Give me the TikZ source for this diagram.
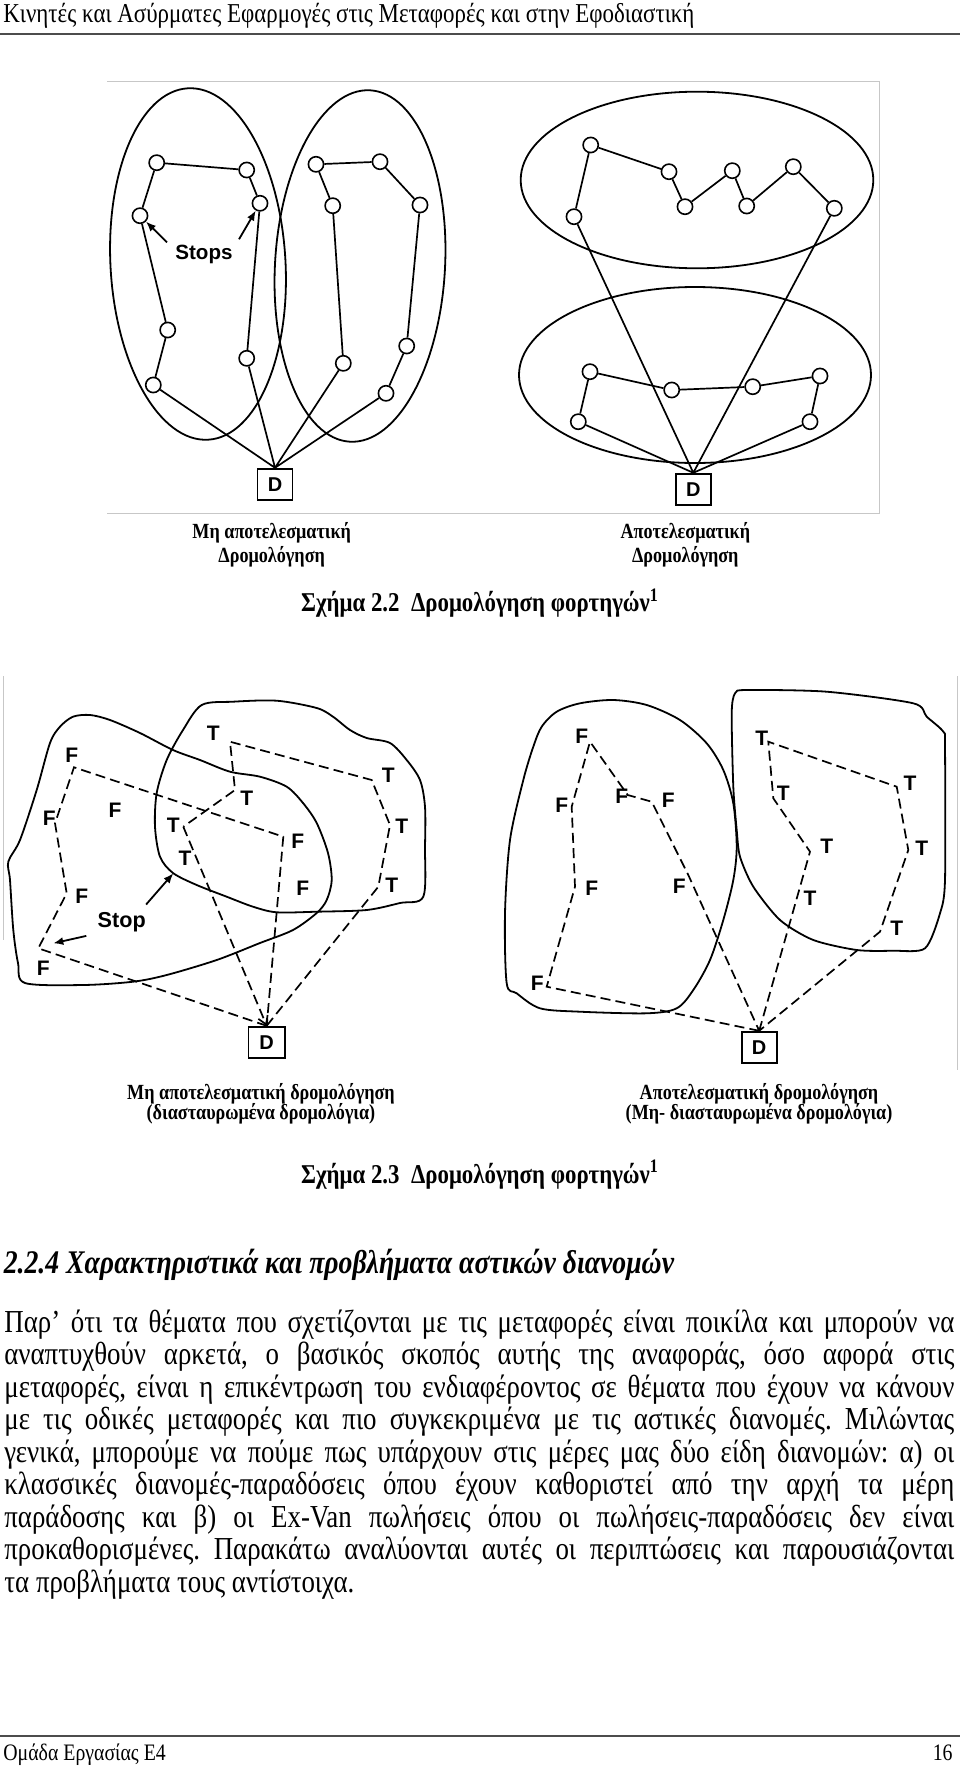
\documentclass[tikz,border=0pt]{standalone}
\usepackage{fontspec}
\setmainfont{Liberation Serif}[FakeStretch=0.84]
\newfontfamily\labelfont{Liberation Sans}
\usetikzlibrary{arrows.meta}
\frenchspacing

\tikzset{
  zone/.style={line width=0.9pt, line join=round},
  stopdot/.style={circle, draw, fill=white, line width=0.8pt, minimum size=7.6pt, inner sep=0pt},
  depot/.style={draw, line width=0.9pt, inner sep=0pt, minimum width=17.5pt, minimum height=15.8pt,
    font=\labelfont\bfseries\fontsize{10}{10}\selectfont},
  leg/.style={line width=0.85pt},
  dashleg/.style={line width=0.85pt, dash pattern=on 5pt off 2.6pt},
  pointer/.style={line width=0.9pt, -{Latex[length=5pt,width=4pt]}},
  stopletter/.style={inner sep=0pt, font=\labelfont\bfseries\fontsize{10.5}{10.5}\selectfont},
  sublabel/.style={anchor=base, font=\bfseries\fontsize{10.8}{12}\selectfont},
  figcaption/.style={anchor=base, font=\bfseries\fontsize{13.6}{15}\selectfont},
  bodyline/.style={anchor=base west, inner sep=0pt, font=\fontsize{16}{18}\selectfont},
  pagerule/.style={line width=1.1pt, draw=black!70},
  panelrule/.style={line width=0.5pt, draw=black!22},
}

\begin{document}
\begin{tikzpicture}[x=0.5pt, y=-0.5pt]
\useasboundingbox (0,0) rectangle (960,1766);

% page header
\node[anchor=base west, inner sep=0pt, font=\fontsize{13.65}{15}\selectfont] (header) at (3,23)
  {Κινητές και Ασύρματες Εφαρμογές στις Μεταφορές και στην Εφοδιαστική};
\coordinate (hruleL) at (0,34);
\coordinate (hruleR) at (960,34);
\draw[pagerule] (hruleL) -- (hruleR);

% ---- Figure 2.2 ----
\coordinate (fr1) at (107,82);
\coordinate (fr2) at (879,82);
\coordinate (fr3) at (879,513);
\coordinate (fr4) at (107,513);
\draw[panelrule] (fr1) -- (fr2) -- (fr3) -- (fr4);

% non efficient: two overlapping tall zones
\draw[zone, rotate around={3.3:(198,264)}] (198,264) ellipse [x radius=87.5, y radius=176];
\draw[zone, rotate around={-3.3:(360,266)}] (360,266) ellipse [x radius=85, y radius=176];

\node[depot] (dA) at (275,484.5) {D};
\node[stopdot] (a1) at (156.7,162.7) {};
\node[stopdot] (a2) at (246.7,170) {};
\node[stopdot] (a3) at (260,203.3) {};
\node[stopdot] (a4) at (246.7,358.3) {};
\node[stopdot] (a5) at (140,215.7) {};
\node[stopdot] (a6) at (167.7,330) {};
\node[stopdot] (a7) at (153.3,385) {};
\node[stopdot] (b1) at (316,164.3) {};
\node[stopdot] (b2) at (380,161.7) {};
\node[stopdot] (b3) at (420,205) {};
\node[stopdot] (b4) at (406.7,346) {};
\node[stopdot] (b5) at (386,393.3) {};
\node[stopdot] (b6) at (332.7,205.7) {};
\node[stopdot] (b7) at (343.3,363.3) {};
\draw[leg] (dA.north) -- (a7) -- (a6) -- (a5) -- (a1) -- (a2) -- (a3) -- (a4) -- (dA.north);
\draw[leg] (dA.north) -- (b7) -- (b6) -- (b1) -- (b2) -- (b3) -- (b4) -- (b5) -- (dA.north);

\node[stopletter, font=\labelfont\bfseries\fontsize{10.3}{10.3}\selectfont] (stops) at (204,254) {Stops};
\draw[pointer] ([shift={(-8,-2)}]stops.north west) -- (a5);
\draw[pointer] ([shift={(6,-5)}]stops.north east) -- (a3);

% efficient: two stacked wide zones
\draw[zone] (697,180) ellipse [x radius=176.3, y radius=88.3];
\draw[zone] (695,375) ellipse [x radius=176, y radius=88];

\node[depot] (dB) at (693.3,489.5) {D};
\node[stopdot] (c1) at (590.7,145) {};
\node[stopdot] (c2) at (669,171.7) {};
\node[stopdot] (c3) at (685,206.7) {};
\node[stopdot] (c4) at (732.3,170.7) {};
\node[stopdot] (c5) at (746.7,206) {};
\node[stopdot] (c6) at (793.3,166.7) {};
\node[stopdot] (c7) at (834.3,208.3) {};
\node[stopdot] (c8) at (574,216.7) {};
\node[stopdot] (e1) at (590,371.7) {};
\node[stopdot] (e2) at (671.7,390) {};
\node[stopdot] (e3) at (752.7,386.7) {};
\node[stopdot] (e4) at (820,376) {};
\node[stopdot] (e5) at (810,421.7) {};
\node[stopdot] (e6) at (578.3,421.7) {};
\draw[leg] (dB.north) -- (c8) -- (c1) -- (c2) -- (c3) -- (c4) -- (c5) -- (c6) -- (c7) -- (dB.north);
\draw[leg] (dB.north) -- (e6) -- (e1) -- (e2) -- (e3) -- (e4) -- (e5) -- (dB.north);

\node[sublabel] (capAa) at (271.7,538.3) {Μη αποτελεσματική};
\node[sublabel] (capAb) at (271.7,562.7) {Δρομολόγηση};
\node[sublabel] (capBa) at (685.3,538.3) {Αποτελεσματική};
\node[sublabel] (capBb) at (685.3,562.7) {Δρομολόγηση};
\node[figcaption] (fig22) at (480,611.7) {Σχήμα 2.2\ \ Δρομολόγηση φορτηγών\textsuperscript{1}};

% ---- Figure 2.3 ----
\coordinate (edgeL1) at (3,676);
\coordinate (edgeL2) at (3,940);
\coordinate (edgeR1) at (957,676);
\coordinate (edgeR2) at (957,1070);
\draw[panelrule] (edgeL1) -- (edgeL2);
\draw[panelrule] (edgeR1) -- (edgeR2);

% crossed routes
\draw[zone] plot[smooth cycle, tension=0.5] coordinates {
  (8.3,861.7) (20,840) (36.7,790) (50,743) (60,726.7) (73,716.7) (90,715) (110,720)
  (140,733) (173,750) (200,760) (230,771.7) (260,776.7) (286.7,786.7) (303,803)
  (316.7,823) (328,853) (331.7,880) (326.7,900) (316.7,913) (293,930) (260,943)
  (216.7,960) (166.7,975) (133,981.7) (83,985) (25,983) (18,963) (13.3,930) (10,880)};
\draw[zone] plot[smooth cycle, tension=0.5] coordinates {
  (201.7,705) (233,701.7) (276.7,700.7) (316.7,708) (333,716.7) (350,730) (366.7,738)
  (390,743) (406.7,760) (420,780) (425,806.7) (425,846.7) (423.3,896.7) (400,903)
  (366.7,910) (316.7,911.7) (276.7,912.3) (253,906.7) (226.7,896.7) (196.7,885)
  (173,873) (160,856.7) (155,826.7) (156.7,793) (166.7,760) (183,730)};

\node[depot, minimum width=18.3pt] (dC) at (266.7,1042.5) {D};
\coordinate (fa) at (74,767.3);
\coordinate (fb) at (55,823.3);
\coordinate (fd) at (66.7,893.3);
\coordinate (fe) at (38.3,948.3);
\coordinate (ff) at (283.3,836.7);
\coordinate (ta) at (230,741.7);
\coordinate (tb) at (235,790);
\coordinate (tc) at (183.3,826.7);
\coordinate (te) at (371.7,780);
\coordinate (tf) at (390,825);
\coordinate (tg) at (378.3,886.7);
\node[stopletter] (lfa) at (71.7,755) {F};
\node[stopletter] (lfb) at (49.3,818.3) {F};
\node[stopletter] (lfc) at (115,810) {F};
\node[stopletter] (lfd) at (81.7,896.7) {F};
\node[stopletter] (lfe) at (43.3,968.3) {F};
\node[stopletter] (lff) at (297.7,841.7) {F};
\node[stopletter] (lfg) at (302.7,888.3) {F};
\node[stopletter] (lta) at (213.3,733.3) {T};
\node[stopletter] (ltb) at (246.7,798.3) {T};
\node[stopletter] (ltc) at (173.3,825) {T};
\node[stopletter] (ltd) at (185,858.3) {T};
\node[stopletter] (lte) at (388.3,775) {T};
\node[stopletter] (ltf) at (401.7,826.7) {T};
\node[stopletter] (ltg) at (391.7,885) {T};
\draw[dashleg] (dC.north) -- (fe) -- (fd) -- (fb) -- (fa) -- (ff) -- (dC.north);
\draw[dashleg] (dC.north) -- (tg) -- (tf) -- (te) -- (ta) -- (tb) -- (tc);
\draw[dashleg, -{Straight Barb[length=4pt,width=5pt]}] (tc) -- (dC.north);

\node[stopletter, font=\labelfont\bfseries\fontsize{10.8}{10.8}\selectfont] (stop) at (121.7,921.7) {Stop};
\coordinate (stoptipA) at (173.3,873.3);
\coordinate (stoptipB) at (53.3,943.3);
\draw[pointer] ([shift={(0,-7)}]stop.north east) -- (stoptipA);
\draw[pointer] ([shift={(-11,4)}]stop.south west) -- (stoptipB);

% separated routes
\draw[zone] plot[smooth cycle, tension=0.5] coordinates {
  (541.7,726.7) (556.7,711.7) (580,703.3) (613.3,700) (646.7,705) (680,720) (706.7,743.3)
  (723.3,770) (733.3,803.3) (736.7,846.7) (733.3,880) (723.3,920) (710,960) (693.3,990)
  (676.7,1008.3) (646.7,1013.3) (580,1011.7) (540,1008.3) (516.7,993.3) (506.7,983.3)
  (505,913.3) (510,840) (523.3,780) (533.3,746.7)};
\draw[zone] plot[smooth cycle, tension=0.45] coordinates {
  (735,693.3) (746.7,690) (826.7,691.7) (913.3,703.3) (926.7,716.7) (943.3,731.7)
  (945,746.7) (945,880) (940,913.3) (925,948.3) (893.3,950.7) (856.7,950) (813.3,940)
  (780,920) (753.3,886.7) (740,856.7) (736.7,830) (733.3,786.7) (731.7,713.3)};

\node[depot] (dD) at (759.2,1047.5) {D};
\coordinate (ga) at (590,741.7);
\coordinate (gb) at (571.7,806.7);
\coordinate (gc) at (627.7,795);
\coordinate (gd) at (651.7,801.7);
\coordinate (ge) at (575,886.7);
\coordinate (gf) at (688.3,875);
\coordinate (gg) at (546.7,986.7);
\coordinate (ha) at (768.3,741.7);
\coordinate (hb) at (773.3,798.3);
\coordinate (hc) at (810,851.7);
\coordinate (he) at (896.7,786.7);
\coordinate (hf) at (908.3,850);
\coordinate (hg) at (880,931.7);
\node[stopletter] (lga) at (581.7,736.7) {F};
\node[stopletter] (lgb) at (561.7,805) {F};
\node[stopletter] (lgc) at (621.7,796.7) {F};
\node[stopletter] (lgd) at (668.3,800) {F};
\node[stopletter] (lge) at (591.7,888.3) {F};
\node[stopletter] (lgf) at (679.3,886.7) {F};
\node[stopletter] (lgg) at (537.3,983.3) {F};
\node[stopletter] (lha) at (761.7,738.3) {T};
\node[stopletter] (lhb) at (783.3,793.3) {T};
\node[stopletter] (lhc) at (826.7,846.7) {T};
\node[stopletter] (lhd) at (810,898.3) {T};
\node[stopletter] (lhe) at (910,783.3) {T};
\node[stopletter] (lhf) at (921.7,848.3) {T};
\node[stopletter] (lhg) at (896.7,928.3) {T};
\draw[dashleg] (dD.north) -- (gg) -- (ge) -- (gb) -- (ga) -- (gc) -- (gd) -- (gf) -- (dD.north);
\draw[dashleg] (dD.north) -- (hc) -- (hb) -- (ha) -- (he) -- (hf) -- (hg) -- (dD.north);

\node[sublabel] (capCa) at (261,1099.3) {Μη αποτελεσματική δρομολόγηση};
\node[sublabel] (capCb) at (261,1119.3) {(διασταυρωμένα δρομολόγια)};
\node[sublabel] (capDa) at (759,1099.3) {Αποτελεσματική δρομολόγηση};
\node[sublabel] (capDb) at (759,1119.3) {(Μη- διασταυρωμένα δρομολόγια)};
\node[figcaption] (fig23) at (480,1183.3) {Σχήμα 2.3\ \ Δρομολόγηση φορτηγών\textsuperscript{1}};

% ---- section text ----
\node[anchor=base west, inner sep=0pt, font=\bfseries\itshape\fontsize{16.5}{18}\selectfont] (sect) at (3.4,1273)
  {2.2.4 Χαρακτηριστικά και προβλήματα αστικών διανομών};

\foreach \txt [count=\i] in {
  {Παρ’ ότι τα θέματα που σχετίζονται με τις μεταφορές είναι ποικίλα και μπορούν να},
  {αναπτυχθούν αρκετά, ο βασικός σκοπός αυτής της αναφοράς, όσο αφορά στις},
  {μεταφορές, είναι η επικέντρωση του ενδιαφέροντος σε θέματα που έχουν να κάνουν},
  {με τις οδικές μεταφορές και πιο συγκεκριμένα με τις αστικές διανομές. Μιλώντας},
  {γενικά, μπορούμε να πούμε πως υπάρχουν στις μέρες μας δύο είδη διανομών: α) οι},
  {κλασσικές διανομές-παραδόσεις όπου έχουν καθοριστεί από την αρχή τα μέρη},
  {παράδοσης και β) οι Ex-Van πωλήσεις όπου οι πωλήσεις-παραδόσεις δεν είναι},
  {προκαθορισμένες. Παρακάτω αναλύονται αυτές οι περιπτώσεις και παρουσιάζονται},
  {τα προβλήματα τους αντίστοιχα.\hfill}}
  \node[bodyline] (line\i) at (4,{1332+32.5*(\i-1)}) {\makebox[475pt][s]{\txt}};

% page footer
\coordinate (fruleL) at (0,1736);
\coordinate (fruleR) at (960,1736);
\draw[pagerule] (fruleL) -- (fruleR);
\node[anchor=base west, inner sep=0pt, font=\fontsize{11.8}{13}\selectfont] (footer) at (3,1760) {Ομάδα Εργασίας Ε4};
\node[anchor=base east, inner sep=0pt, font=\fontsize{11.8}{13}\selectfont] (pageno) at (953,1760) {16};
\end{tikzpicture}
\end{document}
